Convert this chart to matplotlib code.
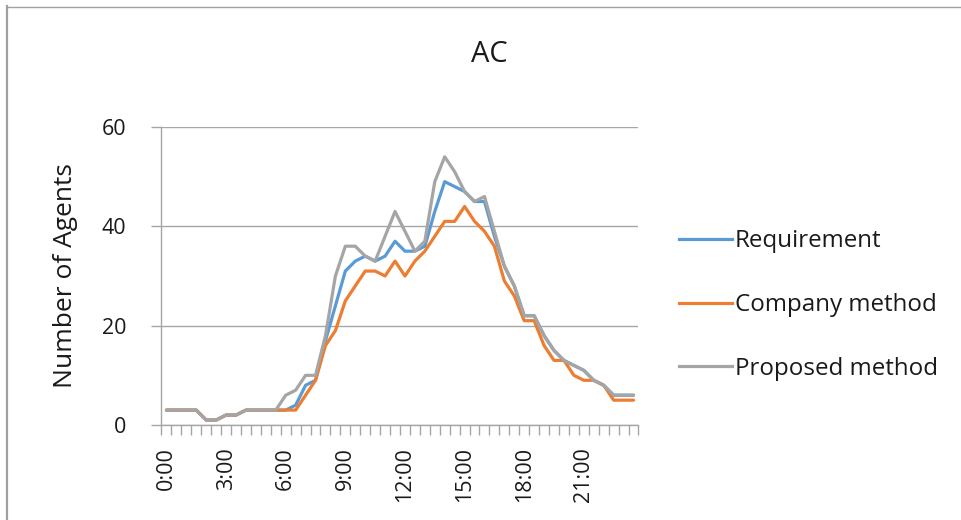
import matplotlib
matplotlib.use("Agg")
import matplotlib.pyplot as plt
from matplotlib.lines import Line2D
from matplotlib.ticker import FixedLocator, NullFormatter

plt.rcParams['font.family'] = ['Open Sans', 'DejaVu Sans']

# Half-hourly slots 0:00 .. 23:30
slots = [f"{h}:{m:02d}" for h in range(24) for m in (0, 30)]
tick_labels = ["0:00", "3:00", "6:00", "9:00", "12:00", "15:00", "18:00", "21:00"]

requirement = [3, 3, 3, 3, 1, 1, 2, 2, 3, 3, 3, 3, 3, 4, 8, 9,
               17, 24, 31, 33, 34, 33, 34, 37, 35, 35, 36, 43, 49, 48, 47, 45,
               45, 38, 32, 28, 22, 22, 18, 15, 13, 12, 11, 9, 8, 6, 6, 6]
company = [3, 3, 3, 3, 1, 1, 2, 2, 3, 3, 3, 3, 3, 3, 6, 9,
           16, 19, 25, 28, 31, 31, 30, 33, 30, 33, 35, 38, 41, 41, 44, 41,
           39, 36, 29, 26, 21, 21, 16, 13, 13, 10, 9, 9, 8, 5, 5, 5]
proposed = [3, 3, 3, 3, 1, 1, 2, 2, 3, 3, 3, 3, 6, 7, 10, 10,
            18, 30, 36, 36, 34, 33, 38, 43, 39, 35, 37, 49, 54, 51, 47, 45,
            46, 39, 32, 28, 22, 22, 18, 15, 13, 12, 11, 9, 8, 6, 6, 6]

series_names = ["Requirement", "Company method", "Proposed method"]
series_colors = ["#5B9BD5", "#ED7D31", "#A5A5A5"]

grid_c = "#A6A6A6"
text_c = "#1A1A1A"

fig = plt.figure(figsize=(9.62, 5.2), dpi=100)
W, H = 962, 520
left, right, top, bottom = 161.5, 638.5, 127, 425
ax = fig.add_axes([left / W, 1 - bottom / H, (right - left) / W, (bottom - top) / H])

x = list(range(len(slots)))
for vals, name, col in zip([requirement, company, proposed], series_names, series_colors):
    ax.plot(x, vals, color=col, lw=2.3, label=name, solid_joinstyle='round',
            solid_capstyle='round')

ax.set_xlim(-0.5, len(slots) - 0.5)
ax.set_ylim(0, 60)

# y axis
ax.set_yticks([0, 20, 40, 60])
ax.yaxis.grid(True, color=grid_c, lw=1.0)
ax.set_axisbelow(True)
ax.tick_params(axis='y', length=10 / 1.389, width=1.0, color=grid_c,
               labelsize=15.5, labelcolor=text_c, pad=18)

# x axis: boundary ticks between categories, labels every 3 hours
label_pos = [slots.index(t) for t in tick_labels]
ax.set_xticks(label_pos)
ax.set_xticklabels(tick_labels, rotation=90, va='top', ha='center')
ax.xaxis.set_minor_locator(FixedLocator([i - 0.5 for i in range(len(slots) + 1)]))
ax.xaxis.set_minor_formatter(NullFormatter())
ax.tick_params(axis='x', which='major', length=0, labelsize=15.5,
               labelcolor=text_c, pad=16)
ax.tick_params(axis='x', which='minor', length=10 / 1.389, width=1.0, color=grid_c)

for s in ['top', 'right']:
    ax.spines[s].set_visible(False)
for s in ['left', 'bottom']:
    ax.spines[s].set_color(grid_c)
    ax.spines[s].set_linewidth(1.0)

# titles
fig.text(489 / W, 1 - 55 / H, "AC", ha='center', va='center', fontsize=21,
         color=text_c)
fig.text(66 / W, 1 - 276 / H, "Number of Agents", rotation=90, ha='center',
         va='center', fontsize=19, color=text_c)

# legend
handles = [Line2D([], [], color=c, lw=2.3) for c in series_colors]
leg = fig.legend(handles, series_names, loc='center left',
                 bbox_to_anchor=(679 / W, 1 - 305 / H), frameon=False,
                 fontsize=17.4, handlelength=2.2, handletextpad=0.12,
                 labelspacing=1.65, borderaxespad=0, borderpad=0)
for t in leg.get_texts():
    t.set_color(text_c)

# chart border (left and top edges)
fig.add_artist(Line2D([7.5 / W, 7.5 / W], [1 - 6 / H, 0], transform=fig.transFigure,
                      color="#A0A0A0", lw=1.6))
fig.add_artist(Line2D([7 / W, 1], [1 - 6.5 / H, 1 - 6.5 / H], transform=fig.transFigure,
                      color="#A0A0A0", lw=1.0))

fig.savefig("out.png", dpi=100)
